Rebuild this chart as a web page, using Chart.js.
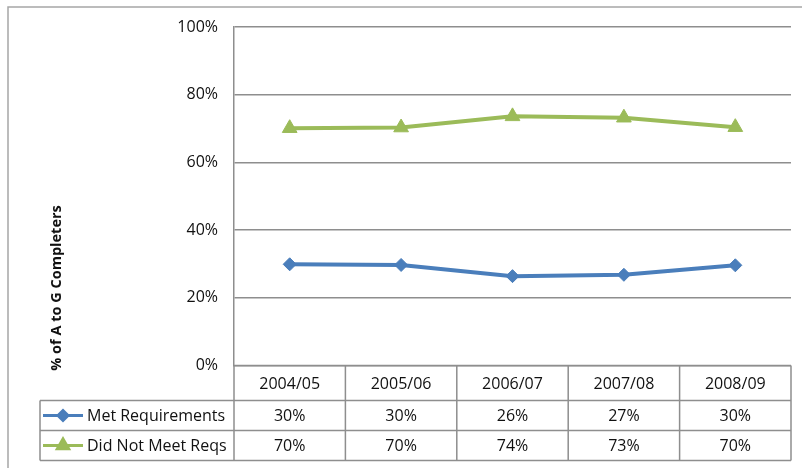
<!DOCTYPE html>
<html>
<head>
<meta charset="utf-8">
<script src="https://cdn.jsdelivr.net/npm/chart.js@4/dist/chart.umd.min.js"></script>
<style>
  html, body { margin: 0; padding: 0; background: #fff; }
  #wrap { width: 802px; height: 468px; position: relative; }
</style>
</head>
<body>
<div id="wrap"><canvas id="c" width="802" height="468"></canvas></div>
<script>
// School years shown along the x axis / data table header
const years = ['2004/05', '2005/06', '2006/07', '2007/08', '2008/09'];
// Share of A-to-G completers (percent)
const metRequirements = [29.9, 29.7, 26.4, 26.8, 29.6];
const didNotMeetReqs = [70.1, 70.3, 73.6, 73.2, 70.4];
const seriesNames = ['Met Requirements', 'Did Not Meet Reqs'];
const yTicks = [0, 20, 40, 60, 80, 100];
const yTitle = '% of A to G Completers';

const BLUE = '#4a7ebb';
const GREEN = '#9bbb59';
const GRID = '#8e8e8e';
const FONT = '"Open Sans", "Noto Sans", sans-serif';

// Draws the outer frame, the y title and the data table under the plot
const tablePlugin = {
  id: 'dataTable',
  beforeDraw(chart) {
    const ctx = chart.ctx;
    ctx.save();
    ctx.fillStyle = '#fff';
    ctx.fillRect(0, 0, chart.width, chart.height);
    ctx.strokeStyle = '#a6a6a6';
    ctx.lineWidth = 1.5;
    ctx.beginPath();
    ctx.moveTo(8, chart.height);
    ctx.lineTo(8, 7);
    ctx.lineTo(chart.width, 7);
    ctx.stroke();
    ctx.restore();
  },
  afterDraw(chart) {
    const ctx = chart.ctx;
    const area = chart.chartArea;
    const x = chart.scales.x;
    const step = x.getPixelForValue(1) - x.getPixelForValue(0);
    const headTop = area.bottom;
    const headBottom = headTop + 35;
    const rowH = 30;
    const legendLeft = 40;
    const bottom = headBottom + rowH * 2;

    ctx.save();
    ctx.strokeStyle = GRID;
    ctx.lineWidth = 1.5;
    ctx.beginPath();
    // horizontal rules
    ctx.moveTo(area.left, headTop); ctx.lineTo(area.right, headTop);
    for (let r = 0; r <= 2; r++) {
      const y = headBottom + r * rowH;
      ctx.moveTo(legendLeft, y); ctx.lineTo(area.right, y);
    }
    // vertical rules
    ctx.moveTo(legendLeft, headBottom); ctx.lineTo(legendLeft, bottom);
    ctx.moveTo(area.left, headTop); ctx.lineTo(area.left, bottom);
    for (let i = 0; i < years.length; i++) {
      const xr = x.getPixelForValue(i) + step / 2;
      ctx.moveTo(xr, headTop); ctx.lineTo(xr, bottom);
    }
    ctx.stroke();

    // header and value cells
    ctx.fillStyle = '#111';
    ctx.font = '16px ' + FONT;
    ctx.textAlign = 'center';
    ctx.textBaseline = 'middle';
    const rows = [metRequirements, didNotMeetReqs];
    years.forEach((yr, i) => {
      const cx = x.getPixelForValue(i);
      ctx.fillText(yr, cx, (headTop + headBottom) / 2 + 1);
      rows.forEach((vals, r) => {
        ctx.fillText(Math.round(vals[i]) + '%', cx, headBottom + r * rowH + rowH / 2 + 1);
      });
    });

    // legend keys with series names
    const styles = [
      { color: BLUE, style: 'rectRot', radius: 5 },
      { color: GREEN, style: 'triangle', radius: 6.5 }
    ];
    styles.forEach((s, r) => {
      const cy = headBottom + r * rowH + rowH / 2;
      ctx.strokeStyle = s.color;
      ctx.lineWidth = 3;
      ctx.beginPath();
      ctx.moveTo(43, cy); ctx.lineTo(83, cy);
      ctx.stroke();
      ctx.fillStyle = s.color;
      Chart.helpers.drawPoint(ctx, { pointStyle: s.style, radius: s.radius, rotation: 0, borderWidth: 1 }, 63, cy);
      ctx.fill();
      ctx.fillStyle = '#111';
      ctx.textAlign = 'left';
      ctx.fillText(seriesNames[r], 87, cy + 1);
    });

    // rotated axis title
    ctx.translate(57, 288);
    ctx.rotate(-Math.PI / 2);
    ctx.font = 'bold 14.5px ' + FONT;
    ctx.textAlign = 'center';
    ctx.fillStyle = '#111';
    ctx.fillText(yTitle, 0, 0);
    ctx.restore();
  }
};

new Chart(document.getElementById('c'), {
  type: 'line',
  data: {
    labels: years,
    datasets: [
      {
        label: seriesNames[0],
        data: metRequirements,
        borderColor: BLUE,
        backgroundColor: BLUE,
        borderWidth: 4,
        pointStyle: 'rectRot',
        pointRadius: 6.5,
        pointBorderWidth: 1,
        tension: 0
      },
      {
        label: seriesNames[1],
        data: didNotMeetReqs,
        borderColor: GREEN,
        backgroundColor: GREEN,
        borderWidth: 4,
        pointStyle: 'triangle',
        pointRadius: 8.5,
        pointBorderWidth: 1,
        tension: 0
      }
    ]
  },
  options: {
    responsive: false,
    animation: false,
    layout: { padding: { left: 0, right: 11, top: 27, bottom: 102.5 } },
    plugins: {
      legend: { display: false },
      tooltip: { enabled: false }
    },
    scales: {
      x: {
        display: false,
        offset: true
      },
      y: {
        min: 0,
        max: 100,
        afterFit(scale) { scale.width = 234; },
        afterBuildTicks(scale) { scale.ticks = yTicks.map(v => ({ value: v })); },
        ticks: {
          padding: 16,
          color: '#111',
          font: { family: FONT, size: 16 },
          callback: v => v + '%'
        },
        grid: { color: GRID, lineWidth: 1.5, drawTicks: false },
        border: { display: true, color: GRID, width: 1.5 }
      }
    }
  },
  plugins: [tablePlugin]
});
</script>
</body>
</html>
